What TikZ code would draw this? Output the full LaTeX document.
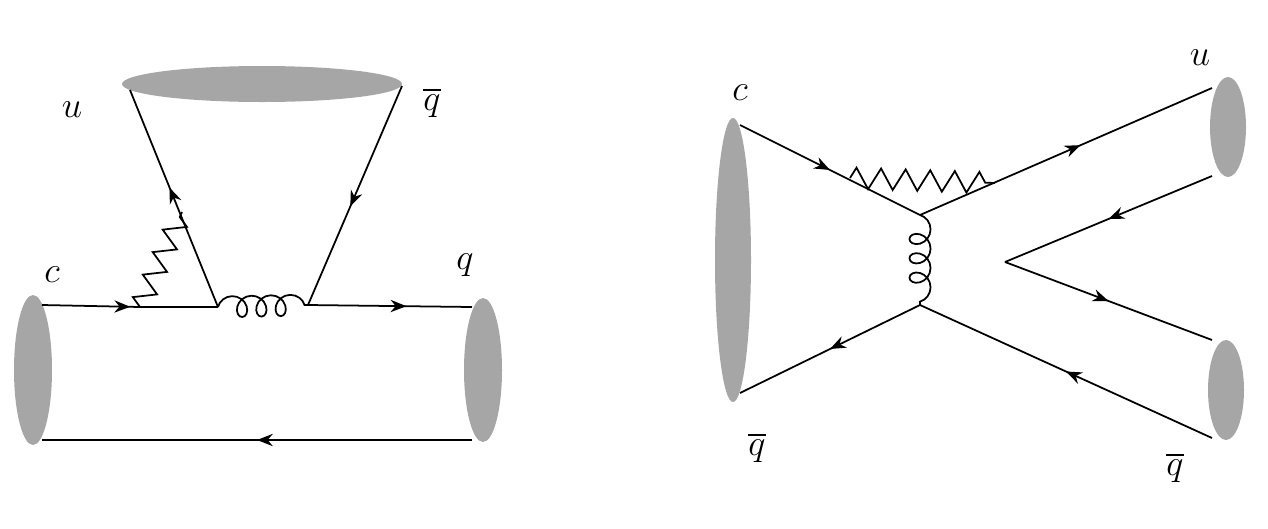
\documentclass[tikz,border=0pt]{standalone}
\usepackage{amsmath}
\usetikzlibrary{decorations.pathmorphing,decorations.markings,arrows.meta}

\tikzset{
  fermion/.style={line width=1pt, postaction={decorate},
    decoration={markings, mark=at position #1 with {\arrow{Stealth[length=9pt,width=7pt]}}}},
  fermion/.default=0.5,
  photon/.style={line width=1pt, decorate, decoration={zigzag, amplitude=6pt, segment length=14pt}},
  gluon/.style={line width=1pt, decorate, decoration={coil, amplitude=6pt, segment length=11pt, aspect=0.9}},
  blob/.style={fill=black!35, draw=none},
  lbl/.style={font=\fontsize{22}{26}\selectfont}
}

\begin{document}
\begin{tikzpicture}[x=0.02cm, y=-0.02cm]
\useasboundingbox (0,0) rectangle (1268,528);

% left diagram
\fill[blob] (33,370) ellipse (19 and 75);
\fill[blob] (483,370) ellipse (19 and 72);
\fill[blob] (262,84) ellipse (140 and 18);
\coordinate (l1) at (42,305);
\coordinate (v1) at (140,307);
\coordinate (v2) at (218,307);
\coordinate (v3) at (308,305);
\coordinate (r1) at (472,307);
\coordinate (l2) at (42,440);
\coordinate (r2) at (472,440);
\coordinate (tu) at (130,90);
\coordinate (tq) at (402,86);
\coordinate (p1) at (182,212);

\draw[fermion=0.9] (l1) -- (v1);
\draw[line width=1pt] (v1) -- (v2);
\draw[gluon] (v2) -- (v3);
\draw[fermion=0.6] (v3) -- (r1);
\draw[fermion] (r2) -- (l2);
\draw[fermion=0.55] (v2) -- (tu);
\draw[fermion=0.55] (tq) -- (v3);
\draw[photon] (v1) -- (p1);

\node[lbl] (cl) at (52,275) {$c$};
\node[lbl] (ul) at (72,110) {$u$};
\node[lbl] (ql) at (432,103) {$\overline{q}$};
\node[lbl] (qr) at (465,265) {$q$};

% right diagram
\fill[blob] (733,260) ellipse (18 and 142);
\fill[blob] (1228,127) ellipse (18 and 50);
\fill[blob] (1226,390) ellipse (18 and 50);
\coordinate (a1) at (740,125);
\coordinate (a2) at (740,393);
\coordinate (w1) at (920,215);
\coordinate (w2) at (920,305);
\coordinate (pa) at (850,178);
\coordinate (pb) at (995,183);
\coordinate (b1) at (1212,88);
\coordinate (b2) at (1212,176);
\coordinate (b3) at (1212,340);
\coordinate (b4) at (1212,438);
\coordinate (tip) at (1005,262);

\draw[fermion] (a1) -- (w1);
\draw[photon] (pa) -- (pb);
\draw[fermion=0.55] (w1) -- (b1);
\draw[gluon] (w1) -- (w2);
\draw[fermion] (w2) -- (a2);
\draw[fermion] (b2) -- (tip);
\draw[fermion] (tip) -- (b3);
\draw[fermion] (b4) -- (w2);

\node[lbl] (cr) at (740,93) {$c$};
\node[lbl] (qb1) at (757,448) {$\overline{q}$};
\node[lbl] (ur) at (1200,58) {$u$};
\node[lbl] (qb2) at (1175,468) {$\overline{q}$};
\end{tikzpicture}
\end{document}
